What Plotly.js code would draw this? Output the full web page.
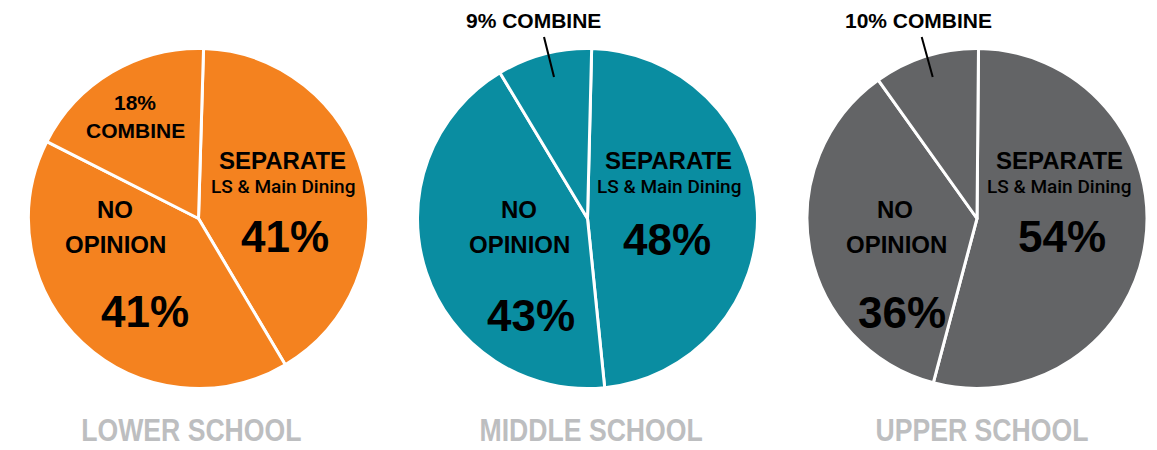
<!DOCTYPE html>
<html>
<head>
<meta charset="utf-8">
<script src="https://cdn.plot.ly/plotly-3.0.1.min.js"></script>
<style>
html,body{margin:0;padding:0;background:#fff;}
#chart{width:1157px;height:450px;}
g.annotation[data-index="22"] text.annotation-text,
g.annotation[data-index="23"] text.annotation-text,
g.annotation[data-index="24"] text.annotation-text {
  transform-box: fill-box;
  transform-origin: center;
  transform: scaleX(0.845);
}
</style>
</head>
<body>
<div id="chart"></div>
<script>
// Data
const categories = ["SEPARATE", "NO OPINION", "COMBINE"];
const schools = ["LOWER SCHOOL", "MIDDLE SCHOOL", "UPPER SCHOOL"];
const lowerValues = [41, 41, 18];
const middleValues = [48, 43, 9];
const upperValues = [54, 36, 10];
const colors = ["#F4821F", "#0A8DA1", "#636466"];
const rotations = [1.7, 1.4, 0.5];

const W = 1157, H = 450;
const px = x => x / W;
const py = y => 1 - y / H;

const centers = [198.5, 587.5, 977];
const cy = 218.5, R = 170;

const valuesAll = [lowerValues, middleValues, upperValues];
const traces = valuesAll.map((vals, i) => ({
  type: "pie",
  values: vals,
  labels: categories,
  sort: false,
  direction: "clockwise",
  rotation: rotations[i],
  textinfo: "none",
  hoverinfo: "label+percent",
  marker: { colors: [colors[i], colors[i], colors[i]], line: { color: "#ffffff", width: 3 } },
  domain: { x: [px(centers[i] - R), px(centers[i] + R)], y: [py(cy + R), py(cy - R)] },
  showlegend: false
}));

const F = "'Liberation Sans', Arial, sans-serif";
const FM = "Roboto, 'Liberation Sans', Arial, sans-serif";

function ann(text, x, y, size, weight, color, family) {
  return {
    text: text, xref: "paper", yref: "paper", x: px(x), y: py(y),
    xanchor: "center", yanchor: "middle", showarrow: false,
    font: { family: family || F, size: size, color: color || "#000", weight: weight || "bold" }
  };
}

const pct = v => v + "%";

const annotations = [
  // Lower
  ann(pct(lowerValues[2]), 135, 102, 21, "bold"),
  ann(categories[2], 135, 130, 21, "bold"),
  ann(categories[0], 282, 160, 24, "bold"),
  ann("LS &amp; Main Dining", 283, 186, 19, 500, "#000", FM),
  ann(pct(lowerValues[0]), 285, 237, 44, "bold"),
  ann("NO", 115, 209, 24, "bold"),
  ann("OPINION", 115, 245, 24, "bold"),
  ann(pct(lowerValues[1]), 145, 311, 44, "bold"),
  // Middle
  ann(categories[0], 668, 160, 24, "bold"),
  ann("LS &amp; Main Dining", 669, 186, 19, 500, "#000", FM),
  ann(pct(middleValues[0]), 667.5, 239, 44, "bold"),
  ann("NO", 519, 209, 24, "bold"),
  ann("OPINION", 519, 244, 24, "bold"),
  ann(pct(middleValues[1]), 531, 315, 44, "bold"),
  ann(pct(middleValues[2]) + " " + categories[2], 533, 21, 21, "bold"),
  // Upper
  ann(categories[0], 1059, 160, 24, "bold"),
  ann("LS &amp; Main Dining", 1059, 186, 19, 500, "#000", FM),
  ann(pct(upperValues[0]), 1062, 237, 44, "bold"),
  ann("NO", 895, 209, 24, "bold"),
  ann("OPINION", 896, 244, 24, "bold"),
  ann(pct(upperValues[1]), 902, 312, 44, "bold"),
  ann(pct(upperValues[2]) + " " + categories[2], 918, 21, 21, "bold"),
  // Titles (indices 22-24)
  ann(schools[0], 191.7, 430, 31.5, "bold", "#BDBEC0"),
  ann(schools[1], 591, 430, 31.5, "bold", "#BDBEC0"),
  ann(schools[2], 982, 430, 31.5, "bold", "#BDBEC0")
];

const shapes = [
  { type: "line", xref: "paper", yref: "paper", x0: px(544), y0: py(37), x1: px(554), y1: py(77), line: { color: "#000", width: 2 } },
  { type: "line", xref: "paper", yref: "paper", x0: px(921.7), y0: py(37), x1: px(932.7), y1: py(77), line: { color: "#000", width: 2 } }
];

const layout = {
  width: W, height: H,
  margin: { l: 0, r: 0, t: 0, b: 0 },
  paper_bgcolor: "#ffffff",
  plot_bgcolor: "#ffffff",
  annotations: annotations,
  shapes: shapes,
  showlegend: false
};

Plotly.newPlot("chart", traces, layout, { displayModeBar: false, staticPlot: true });
</script>
</body>
</html>
